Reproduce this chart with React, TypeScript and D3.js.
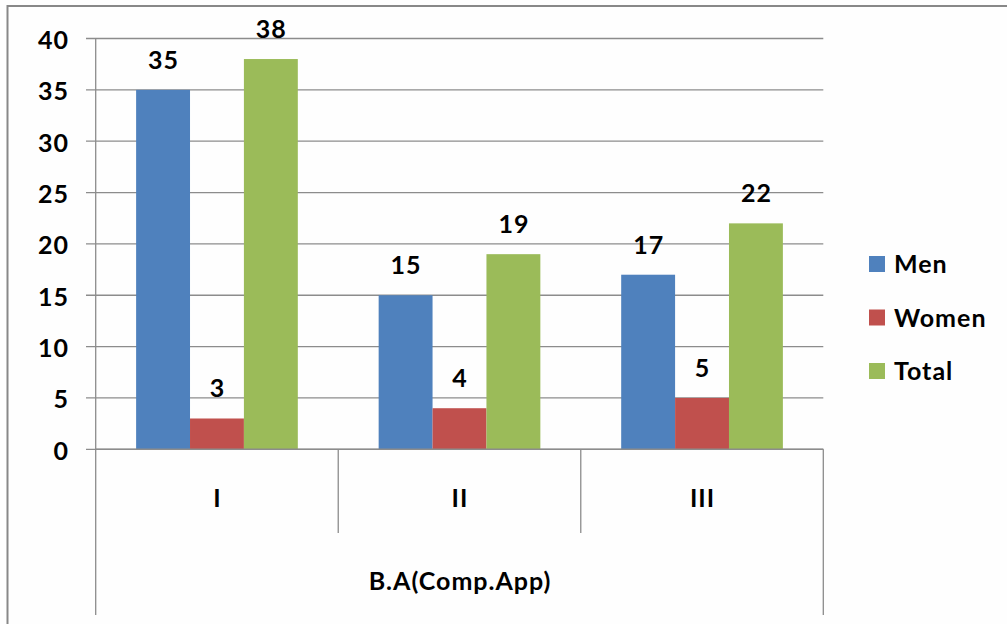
import React from "react";
import * as d3 from "d3";

const categories = ["I", "II", "III"];
const seriesNames = ["Men", "Women", "Total"];
const men = [35, 15, 17];
const women = [3, 4, 5];
const total = [38, 19, 22];
const yTicks = [0, 5, 10, 15, 20, 25, 30, 35, 40];
const groupLabel = "B.A(Comp.App)";
const colors = ["#4F81BD", "#C0504D", "#9BBB59"];

const W = 1007;
const H = 624;
const left = 95.7;
const right = 823.3;
const top = 38.5;
const bottom = 449.3;
const font = "Lato, 'Open Sans', sans-serif";
const fs = 25;
const ls = 1;

export default function App() {
  const series = [men, women, total];
  const x0 = d3.scaleBand<string>().domain(categories).range([left, right]).paddingInner(0).paddingOuter(0);
  const cw = x0.bandwidth();
  const barW = cw / 4.5;
  const x1 = d3
    .scaleBand<string>()
    .domain(seriesNames)
    .range([(cw * 0.75) / 4.5, cw - (cw * 0.75) / 4.5]);
  const y = d3.scaleLinear().domain([0, 40]).range([bottom, top]);
  const grid = "#8c8c8c";
  const txt = {
    fontFamily: font,
    fontWeight: 700,
    fontSize: fs,
    letterSpacing: ls,
    fill: "#000",
  } as const;

  return (
    <svg
      width={W}
      height={H}
      style={{ position: "absolute", left: 0, top: 0, display: "block", background: "#fefefe" }}
    >
      <rect x={7.5} y={6} width={1100} height={700} fill="#fefefe" stroke="#888" strokeWidth={2} />
      {yTicks.map((t) => (
        <g key={t}>
          <line x1={86} x2={right} y1={y(t)} y2={y(t)} stroke={grid} strokeWidth={1.3} />
          <text x={69} y={y(t) + 1.5} dy="0.36em" textAnchor="end" {...txt}>
            {t}
          </text>
        </g>
      ))}
      <line x1={left} x2={left} y1={top} y2={615} stroke={grid} strokeWidth={1.3} />
      <line x1={right} x2={right} y1={bottom} y2={615} stroke={grid} strokeWidth={1.3} />
      {categories.slice(1).map((c) => (
        <line key={c} x1={x0(c)!} x2={x0(c)!} y1={bottom} y2={533} stroke={grid} strokeWidth={1.3} />
      ))}
      {series.map((vals, si) =>
        vals.map((v, ci) => {
          const bx = x0(categories[ci])! + x1(seriesNames[si])!;
          return (
            <g key={si + "-" + ci}>
              <rect x={bx} y={y(v)} width={barW} height={bottom - y(v)} fill={colors[si]} />
              <text x={bx + barW / 2 + ls / 2} y={y(v) - 21} textAnchor="middle" {...txt}>
                {v}
              </text>
            </g>
          );
        })
      )}
      <line x1={left} x2={right} y1={bottom} y2={bottom} stroke={grid} strokeWidth={1.5} />
      {categories.map((c) => (
        <text key={c} x={x0(c)! + cw / 2 + ls / 2} y={498} dy="0.36em" textAnchor="middle" {...txt}>
          {c}
        </text>
      ))}
      <text x={(left + right) / 2 + ls / 2} y={581} dy="0.36em" textAnchor="middle" {...txt}>
        {groupLabel}
      </text>
      {seriesNames.map((s, i) => (
        <g key={s} transform={`translate(869, ${264 + i * 53.5})`}>
          <rect x={0} y={-8} width={16} height={16} fill={colors[i]} />
          <text x={25} y={0} dy="0.36em" {...txt}>
            {s}
          </text>
        </g>
      ))}
    </svg>
  );
}
